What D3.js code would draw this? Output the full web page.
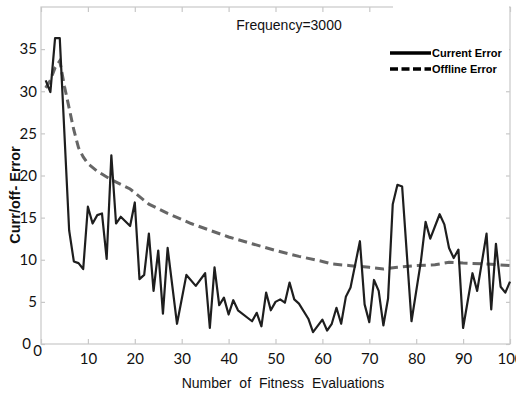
<!DOCTYPE html>
<meta charset="utf-8">
<style>
body { margin: 0; background: #fff; }
.tick-lbl { font: 15px Lato, sans-serif; fill: #111; }
.axis-title { font-family: "Liberation Sans", Arial, sans-serif; fill: #111; }
.leg { font: bold 11px "Liberation Sans Narrow", "Arial Narrow", sans-serif; fill: #000; }
</style>
<body>
<script src="https://d3js.org/d3.v7.min.js"></script>
<script>

// chart values
var xTicks = [0, 10, 20, 30, 40, 50, 60, 70, 80, 90, 100];
var yTicks = [0, 5, 10, 15, 20, 25, 30, 35];

var currEvals = [1, 2, 3, 4, 6, 7, 8, 9, 10, 11, 12, 13, 14, 15, 16, 17, 19, 20,
  21, 22, 23, 24, 25, 26, 27, 29, 31, 33, 35, 36, 37, 38, 39, 40, 41, 42, 45, 46,
  47, 48, 49, 50, 51, 52, 53, 54, 55, 57, 58, 60, 61, 62, 63, 64, 65, 66, 68, 69,
  70, 71, 72, 73, 74, 75, 76, 77, 79, 81, 82, 83, 85, 86, 87, 88, 89, 90, 92, 93,
  95, 96, 97, 98, 99, 100];
var currError = [31.3, 29.9, 36.3, 36.3, 13.5, 9.8, 9.6, 8.9, 16.3, 14.3, 15.3, 15.5, 10.1, 22.4, 14.3, 15.1, 14.0, 16.8,
  7.7, 8.2, 13.1, 6.3, 11.1, 3.6, 11.4, 2.4, 8.2, 6.9, 8.4, 1.9, 9.1, 4.6, 5.5, 3.5, 5.2, 4.0, 2.7, 3.7,
  2.1, 6.1, 4.0, 5.0, 5.3, 4.9, 7.3, 5.3, 4.8, 3.0, 1.4, 2.9, 1.6, 2.4, 4.3, 2.4, 5.6, 6.7, 12.2, 4.7,
  2.6, 7.6, 6.3, 2.2, 5.4, 16.6, 18.9, 18.7, 2.7, 9.8, 14.5, 12.5, 15.4, 14.2, 11.4, 10.2, 11.2, 1.9, 8.4, 6.3,
  13.1, 4.1, 11.9, 6.8, 6.1, 7.4];

var offEvals = [1, 2, 3, 4, 5, 6, 7, 8, 9, 10, 12, 15, 19, 23, 27, 32, 36, 40, 45,
  50, 55, 60, 62, 66, 70, 73, 76, 80, 84, 87, 90, 95, 100];
var offError = [30.4, 31.3, 32.8, 33.6, 30.6, 28.0, 25.4, 23.3, 22.2, 21.4, 20.5, 19.5, 18.4, 16.6, 15.5, 14.3, 13.5, 12.7, 11.9,
  11.1, 10.4, 9.8, 9.5, 9.3, 9.1, 8.9, 9.1, 9.3, 9.4, 9.7, 9.6, 9.5, 9.3];

var margin = {top: 7, right: 6, bottom: 50, left: 41},
    width = 510 - margin.left,
    height = 344 - margin.top;

var x = d3.scaleLinear().domain([0, 100]).range([0, width]);
var y = d3.scaleLinear().domain([0, 40]).range([height, 0]);

var svg = d3.select("body").append("svg")
    .attr("width", 516)
    .attr("height", 394)
  .append("g")
    .attr("transform", "translate(" + margin.left + "," + margin.top + ")");

// box + inner ticks, light grey like the original
var boxCol = "#c8c8c8";
svg.append("rect")
    .attr("width", width).attr("height", height)
    .attr("fill", "none").attr("stroke", boxCol).attr("stroke-width", 1.2);

function style(g) {
  g.select(".domain").remove();
  g.selectAll(".tick line").attr("stroke", boxCol).attr("stroke-width", 1.2);
  g.selectAll(".tick text").attr("class", "tick-lbl");
}

var xAx = svg.append("g")
    .attr("transform", "translate(0," + height + ")")
    .call(d3.axisBottom(x).tickValues(xTicks).tickSize(-5).tickPadding(9))
    .call(style);
svg.append("g")
    .call(d3.axisTop(x).tickValues(xTicks).tickSize(-5).tickFormat(""))
    .call(style);
var yAx = svg.append("g")
    .call(d3.axisLeft(y).tickValues(yTicks).tickSize(-4).tickPadding(4))
    .call(style);
svg.append("g")
    .attr("transform", "translate(" + width + ",0)")
    .call(d3.axisRight(y).tickValues(yTicks).tickSize(-4).tickFormat(""))
    .call(style);

// the two zeros sit apart in the corner
xAx.selectAll(".tick text").filter(function(d) { return d === 0; })
    .attr("dx", -4).attr("dy", "0.22em");
yAx.selectAll(".tick text").filter(function(d) { return d === 0; })
    .attr("dx", -6).attr("dy", "0.3em");

// white legend box hides the top-right part of the frame
svg.append("rect")
    .attr("x", 393 - margin.left).attr("y", -margin.top)
    .attr("width", 509 - 393).attr("height", 75)
    .attr("fill", "#fff");

// lines
var offLine = d3.line()
    .x(function(d, i) { return x(offEvals[i]); })
    .y(function(d) { return y(d); });
var curLine = d3.line()
    .x(function(d, i) { return x(currEvals[i]); })
    .y(function(d) { return y(d); });

svg.append("path")
    .datum(offError)
    .attr("fill", "none")
    .attr("stroke", "#666")
    .attr("stroke-width", 3)
    .attr("stroke-dasharray", "9,5")
    .attr("d", offLine);

svg.append("path")
    .datum(currError)
    .attr("fill", "none")
    .attr("stroke", "#1e1e1e")
    .attr("stroke-width", 2.2)
    .attr("stroke-linejoin", "round")
    .attr("d", curLine);

// title
svg.append("text")
    .attr("class", "axis-title")
    .attr("x", 289 - margin.left).attr("y", 30 - margin.top)
    .attr("text-anchor", "middle")
    .style("font-size", "14px")
    .text("Frequency=3000");

// legend
var legend = svg.append("g")
    .attr("transform", "translate(" + (390 - margin.left) + "," + (53 - margin.top) + ")");
legend.append("line").attr("x1", 0).attr("x2", 41).attr("y1", 0).attr("y2", 0)
    .attr("stroke", "#000").attr("stroke-width", 3.5);
legend.append("line").attr("x1", 0).attr("x2", 41).attr("y1", 16).attr("y2", 16)
    .attr("stroke", "#000").attr("stroke-width", 3.5).attr("stroke-dasharray", "8,3.5");
legend.append("text").attr("class", "leg").attr("x", 42).attr("y", 4).text("Current Error");
legend.append("text").attr("class", "leg").attr("x", 42).attr("y", 20).text("Offline Error");

// axis titles
svg.append("text")
    .attr("class", "axis-title")
    .attr("transform", "translate(" + (20 - margin.left) + "," + (195 - margin.top) + ") rotate(-90)")
    .attr("text-anchor", "middle")
    .style("font-size", "14.5px")
    .style("font-weight", "bold")
    .text("Curr/off- Error");

svg.append("text")
    .attr("class", "axis-title")
    .attr("x", 283 - margin.left).attr("y", 388 - margin.top)
    .attr("text-anchor", "middle")
    .style("font-size", "14px")
    .style("word-spacing", "4px")
    .text("Number of Fitness Evaluations");

</script>
</body>
